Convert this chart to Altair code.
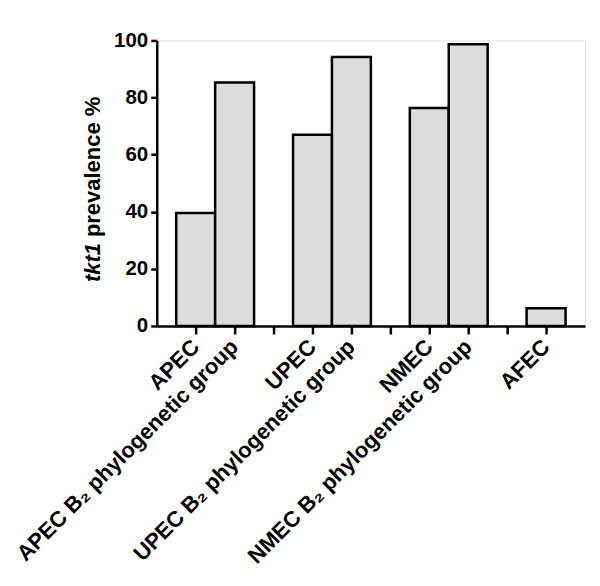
import altair as alt
import pandas as pd

# Slots on the x axis (blank slots separate the groups)
slots = ["APEC", "APEC B₂ phylogenetic group", " ",
         "UPEC", "UPEC B₂ phylogenetic group", "  ",
         "NMEC", "NMEC B₂ phylogenetic group", "   ",
         "AFEC"]
groups = ["APEC", "APEC B₂ phylogenetic group",
          "UPEC", "UPEC B₂ phylogenetic group",
          "NMEC", "NMEC B₂ phylogenetic group",
          "AFEC"]
prevalence = [39.6, 85.3, 67.0, 94.2, 76.3, 98.7, 6.2]
y_ticks = [0, 20, 40, 60, 80, 100]

df = pd.DataFrame({"group": groups, "value": prevalence})

FONT = "Liberation Sans"

bars = alt.Chart(df).mark_bar(
    fill="#dcdcdc", stroke="black", strokeWidth=2.5
).encode(
    x=alt.X("group:N", sort=slots,
            scale=alt.Scale(domain=slots, paddingInner=0, paddingOuter=0.5),
            axis=alt.Axis(title=None, labelAngle=-45, labelAlign="right",
                          labelBaseline="middle", labelFont=FONT,
                          labelFontSize=22, labelFontWeight="bold",
                          labelColor="black", labelPadding=9,
                          domainColor="black", domainWidth=2.5,
                          tickColor="black", tickWidth=2.5, tickSize=8,
                          labelLimit=400)),
    y=alt.Y("value:Q",
            scale=alt.Scale(domain=[0, 100], nice=False),
            axis=alt.Axis(title=None, values=y_ticks, grid=False,
                          labelFont=FONT, labelFontSize=20.5,
                          labelFontWeight="bold", labelColor="black",
                          labelPadding=3, domainColor="black",
                          domainWidth=2.5, tickColor="black",
                          tickWidth=2.5, tickSize=6))
)

title_df1 = pd.DataFrame({"t": ["tkt1"]})
title_df2 = pd.DataFrame({"t": ["prevalence %"]})

t1 = alt.Chart(title_df1).mark_text(
    angle=270, align="left", baseline="middle", font=FONT, fontSize=22,
    fontWeight="bold", fontStyle="italic", color="black"
).encode(text="t:N", x=alt.value(-64), y=alt.value(242))

t2 = alt.Chart(title_df2).mark_text(
    angle=270, align="left", baseline="middle", font=FONT, fontSize=22,
    fontWeight="bold", color="black"
).encode(text="t:N", x=alt.value(-64), y=alt.value(197))

chart = alt.layer(bars, t1, t2).properties(
    width=429, height=286,
    autosize="none",
    padding={"left": 149, "top": 32, "right": 7, "bottom": 252}
).configure_view(strokeWidth=0).configure(background="white")

chart.save("out.html", embed_options={"renderer": "svg", "actions": False})
